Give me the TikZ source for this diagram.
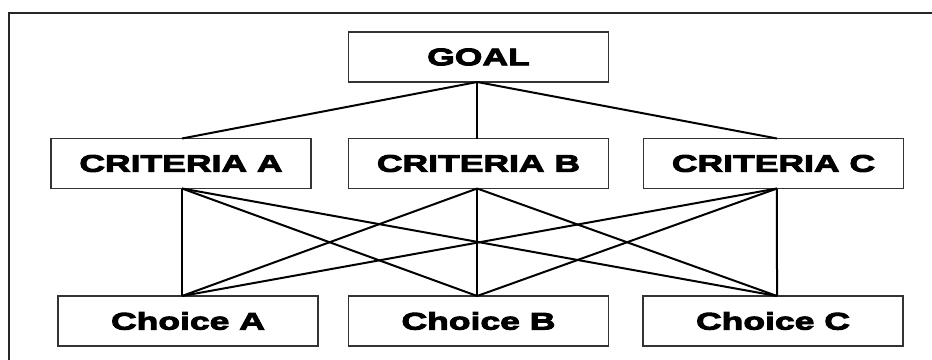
\documentclass[tikz,border=0pt]{standalone}
\usepackage{fontspec}
\newfontfamily\labfont{Liberation Sans Bold}[FakeStretch=1.48,FakeBold=4]
\begin{document}
\begin{tikzpicture}[x=0.75pt,y=-0.75pt,
  box/.style={draw=black!80,line width=0.9pt,minimum width=195pt,minimum height=37.5pt,
    inner sep=0pt,outer sep=0pt,font=\labfont\fontsize{18pt}{20pt}\selectfont},
  link/.style={line width=1.5pt,black}]
\useasboundingbox (0,0) rectangle (932,360);
% frame: only the top and left edges fall inside the page
\draw[line width=1.6pt,black!85] (9,400) -- (9,13) -- (960,13);

\node[box] (goal) at (478.5,57) {GOAL};
\node[box] (ca) at (181,163.5) {CRITERIA A};
\node[box] (cb) at (478.5,163.5) {CRITERIA B};
\node[box] (cc) at (773.5,163.5) {CRITERIA C};
\node[box] (pa) at (188,321) {Choice A};
\node[box] (pb) at (478.5,321) {Choice B};
\node[box] (pc) at (773,321) {Choice C};

% attachment points on the box edges
\coordinate (g-s) at ([xshift=-1pt]goal.south);
\coordinate (ca-n) at ([xshift=0.75pt]ca.north);
\coordinate (cb-n) at ([xshift=-1pt]cb.north);
\coordinate (cc-n) at ([xshift=2.6pt]cc.north);
\coordinate (ca-s) at ([xshift=0.75pt]ca.south);
\coordinate (cb-s) at ([xshift=-1pt]cb.south);
\coordinate (cc-s) at ([xshift=2.6pt]cc.south);
\coordinate (pa-n) at ([xshift=-4.5pt]pa.north);
\coordinate (pb-n) at ([xshift=-1pt]pb.north);
\coordinate (pc-n) at ([xshift=3pt]pc.north);

\draw[link] (g-s) -- (ca-n);
\draw[link] (g-s) -- (cb-n);
\draw[link] (g-s) -- (cc-n);
\foreach \c in {ca,cb,cc}{
  \foreach \p in {pa,pb,pc}{
    \draw[link] (\c-s) -- (\p-n);
  }
}
\end{tikzpicture}
\end{document}
